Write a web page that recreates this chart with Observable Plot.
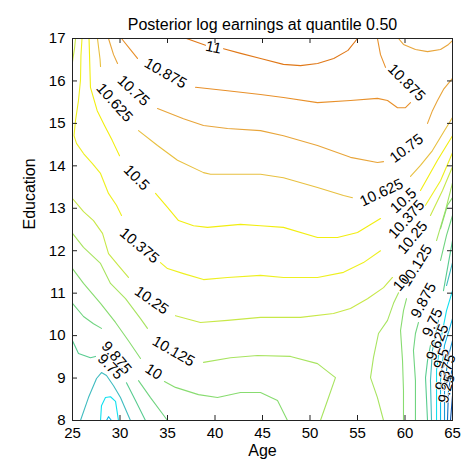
<!DOCTYPE html>
<html><head><meta charset="utf-8">
<script src="https://cdn.jsdelivr.net/npm/d3@7"></script>
<script src="https://cdn.jsdelivr.net/npm/@observablehq/plot@0.6"></script>
<style>html,body{margin:0;padding:0;background:#fff;}</style>
</head><body><div id="chart"></div>
<script>
const title = "Posterior log earnings at quantile 0.50";
const xLabel = "Age";
const yLabel = "Education";
const xTicks = [25, 30, 35, 40, 45, 50, 55, 60, 65];
const yTicks = [8, 9, 10, 11, 12, 13, 14, 15, 16, 17];

const levels = [11, 10.875, 10.75, 10.625, 10.5, 10.375, 10.25, 10.125, 10, 9.875, 9.75, 9.625, 9.5, 9.375, 9.25, 9.125, 9];
const levelColors = ["#e07818", "#e8902a", "#e8a53a", "#e8c040", "#f2ee10", "#eef020", "#c8e848", "#a8e460", "#88dc70", "#70d480", "#58cc90", "#40bcc0", "#10e0f0", "#10b8e8", "#1898d8", "#1070c0", "#0850a8"];

// contour segments per level: [age, education] points
const c11 = [
  [[37.0,17],[39.0,16.84]],
  [[40.9,16.76],[42.7,16.65],[44.8,16.53],[47.2,16.39],[49.0,16.36],[50.8,16.41],[52.5,16.53],[54.0,16.72],[55.0,17]]
];
const c10_875 = [
  [[30.16,17],[31.1,16.74],[31.84,16.53]],
  [[37.95,15.85],[41.32,15.77],[44.79,15.68],[47.21,15.61],[50.79,15.49],[54.26,15.54],[57.1,15.59],[58.16,15.54],[59.21,15.37],[60.05,15.37],[60.58,15.49]],
  [[57.95,16.32],[57.42,16.62],[57.1,17]]
];
const c10_75 = [
  [[28.79,17],[29.32,16.62],[29.74,16.41]],
  [[33.95,15.35],[36.68,15.11],[38.79,14.95],[41.32,14.88],[44.79,14.83],[47.21,14.71],[50.79,14.48],[54.26,14.2],[57.1,14.08],[57.74,14.1]],
  [[62.37,15],[62.89,15.3],[63.42,15.54],[64.05,15.8],[65,16.06]],
  [[59.32,17],[59.84,16.86],[61.1,16.74],[62.37,16.69],[63.74,16.74],[64.58,16.86],[65,16.95]]
];
const c10_625 = [
  [[27.63,17],[27.9,16.51],[27.95,16.34]],
  [[31.95,14.83],[33.95,14.48],[36.05,14.13],[38.79,13.84],[39.53,13.8],[44.79,13.8],[47.21,13.72],[50.79,13.49],[53.53,13.3],[54.47,13.25]],
  [[60.58,13.75],[61.63,14.01],[62.89,14.36],[64.05,14.79],[65,15.14]]
];
const c10_5 = [
  [[26.74,17],[26.79,16.62],[26.89,15.85],[27.6,15.3],[28.37,14.95],[29.18,14.6],[29.95,14.24]],
  [[33.74,13.35],[35,13.02],[36.16,12.71],[37.74,12.59],[39.21,12.55],[42.68,12.62],[44.79,12.59],[47.21,12.55],[50.79,12.31],[52.89,12.31],[55,12.43],[57.42,12.76]],
  [[61.63,13.42],[63.42,14.13],[65,14.71]]
];
const c10_375 = [
  [[26,17],[25.89,16.6],[25.84,16.01],[25.63,15.54],[25.32,15.07],[25.16,14.71],[25.42,14.53],[26.16,14.29],[27.1,14.05],[27.95,13.82],[28.79,13.35],[29.63,13.07],[30.16,12.83]],
  [[34.26,11.72],[35,11.58],[36.68,11.46],[38.79,11.32],[41.32,11.37],[44.79,11.42],[47.21,11.37],[50.79,11.37],[53.53,11.49],[55.63,11.72],[57.42,12.0]],
  [[62.16,13.07],[63.74,13.65],[65,14.31]]
];
const c10_25 = [
  [[25.32,17],[25.21,16.76],[25.05,16.53],[25,16.45]],
  [[25,13.23],[26.16,12.92],[27.21,12.71],[28.16,12.41],[28.79,11.93],[29.84,11.65],[30.89,11.37]],
  [[35.84,10.47],[38.47,10.31],[41.32,10.36],[44.79,10.43],[49,10.43],[52.47,10.52],[54.26,10.64],[56.05,10.87],[57.74,11.13],[58.68,11.37]],
  [[62.68,12.83],[63.95,13.42],[65,13.98]]
];
const c10_125 = [
  [[25,12.41],[26.16,12.08],[27.95,11.7],[29,11.23],[30.58,10.87],[32.16,10.4],[32.89,10.17]],
  [[38.79,9.37],[41.63,9.48],[44.47,9.53],[47.95,9.51],[50.79,9.34],[52.68,9.01],[51.84,8.47],[51.1,8]],
  [[57.74,8],[57.1,8.54],[56.37,9.01],[56.68,9.48],[57.21,10.05],[58.16,10.36],[58.79,10.76],[59.32,11.01]],
  [[63.32,12.24],[64.26,12.95],[65,13.6]]
];
const c10 = [
  [[25,11.58],[26.16,11.23],[27.95,10.76],[29.53,10.31],[30.89,9.88],[32.16,9.46]],
  [[34.68,8.92],[35.84,8.78],[38.26,8.61],[40.26,8.54],[42.68,8.66],[44.79,8.66],[46.58,8.47],[47.63,8]],
  [[59.84,8],[59.84,8.71],[59.74,9.41],[59.53,10.12],[59.84,10.59],[60.16,10.87]],
  [[63.74,12.52],[64.47,13.07],[65,13.25]]
];
const c9_875 = [
  [[25,10.76],[26.16,10.45],[27.21,10.28],[28.05,10.17]],
  [[31.95,8.94],[33.21,8.54],[35,8]],
  [[61.1,8],[61.1,8.94],[60.89,9.65],[61.1,10.05],[61.42,10.31]],
  [[63.74,11.77],[64.37,12.36],[65,12.83]]
];
const c9_75 = [
  [[25,9.88],[25.63,9.58],[26.89,9.48],[27.42,9.51]],
  [[30.68,8.89],[31.63,8.47],[32.68,8]],
  [[62.37,8],[62.16,9.01],[62.37,9.41],[62.68,9.77]],
  [[64.05,11.06],[64.58,11.72],[65,12.24]]
];
const c9_625 = [
  [[25.84,8],[26.68,8.54],[27.53,8.99],[28.05,9.13],[28.58,9.06],[29.32,8.82],[30.05,8.54],[31.1,8]],
  [[62.79,8],[62.68,8.94],[62.89,9.65],[63.53,10.36]],
  [[64.37,11.18],[65,11.72]]
];
const c9_5 = [
  [[27.95,8],[28.05,8.35],[28.47,8.54],[29,8.56],[29.53,8.45],[29.84,8]],
  [[63.32,8],[63.32,9.18],[63.74,9.88],[64.37,10.59],[65,11.06]]
];
const c9_375 = [
  [[28.58,8],[28.79,8.09],[29.1,8]],
  [[63.74,8],[63.74,8.94],[64.16,9.77],[65,10.4]]
];
const c9_25 = [[[64.16,8],[64.16,8.82],[64.58,9.53],[65,9.88]]];
const c9_125 = [[[64.47,8],[64.58,8.71],[65,9.29]]];
const c9 = [[[64.79,8],[65,8.59]]];

const contourSets = [c11, c10_875, c10_75, c10_625, c10_5, c10_375, c10_25, c10_125, c10, c9_875, c9_75, c9_625, c9_5, c9_375, c9_25, c9_125, c9];

// contour labels
const labelText = ["11","10.875","10.75","10.625","10.5","10.375","10.25","10.125","10","9.875","9.75",
                   "10.875","10.75","10.625","10.5","10.375","10.25","10.125","10","9.875","9.75","9.625","9.5","9.375","9.25"];
const labelAge  = [39.84,34.79,31.42,29.42,31.74,32.05,33.32,35.63,33.53,29.63,29.0,
                   60.16,60.16,57.53,59.84,60.16,60.79,61.21,59.63,61.95,62.89,63.42,63.84,64.26,64.37];
const labelEdu  = [16.79,16.18,15.77,15.49,13.72,12.12,10.83,9.63,9.15,9.48,9.27,
                   15.96,14.41,13.37,13.18,12.74,12.31,11.65,11.25,10.83,10.31,9.84,9.46,9.13,8.75];
const labelAngle = [12,30,43,48,45,40,35,30,33,50,45,
                    45,-37,-25,-42,-48,-50,-58,-50,-62,-65,-68,-70,-72,-75];

const rows = [];
contourSets.forEach((set, li) => {
  set.forEach((seg, si) => {
    seg.forEach(([a, e]) => rows.push({age: a, edu: e, level: levels[li], seg: li + "-" + si}));
  });
});
const labels = labelText.map((t, i) => ({text: t, age: labelAge[i], edu: labelEdu[i], angle: labelAngle[i]}));

const W = 465, H = 466, mL = 72, mR = 13, mT = 38, mB = 46;
const innerW = W - mL - mR, innerH = H - mT - mB;
const font = "'Liberation Sans', Arial, Helvetica, sans-serif";

const chart = Plot.plot({
  width: W, height: H,
  marginLeft: mL, marginRight: mR, marginTop: mT, marginBottom: mB,
  style: {fontFamily: font, fontSize: "15px", background: "#fff", color: "#000"},
  x: {domain: [25, 65], ticks: xTicks},
  y: {domain: [8, 17], ticks: yTicks},
  color: {type: "ordinal", domain: levels, range: levelColors},
  marks: [
    Plot.line(rows, {x: "age", y: "edu", z: "seg", stroke: "level", strokeWidth: 1.1, curve: "linear"}),
    Plot.text(labels, {x: "age", y: "edu", text: "text", rotate: "angle", fontSize: 15, fill: "#000", stroke: "#fff", strokeWidth: 1.5, paintOrder: "stroke"}),
    Plot.frame({stroke: "#222"}),
    Plot.ruleX(xTicks, {x: d => d, insetTop: innerH - 5, stroke: "#222"}),
    Plot.ruleX(xTicks, {x: d => d, insetBottom: innerH - 5, stroke: "#222"}),
    Plot.ruleY(yTicks, {y: d => d, insetRight: innerW - 5, stroke: "#222"}),
    Plot.ruleY(yTicks, {y: d => d, insetLeft: innerW - 5, stroke: "#222"}),
    Plot.axisX({ticks: xTicks, tickSize: 0, tickPadding: 7, label: null, fontSize: 15}),
    Plot.axisY({ticks: yTicks, tickSize: 0, tickPadding: 7, label: null, fontSize: 15}),
    Plot.text([title], {frameAnchor: "top", dy: -20, fontSize: 16}),
    Plot.text([xLabel], {frameAnchor: "bottom", dy: 35, fontSize: 16}),
    Plot.text([yLabel], {frameAnchor: "left", dx: -43, rotate: -90, fontSize: 16})
  ]
});
document.getElementById("chart").appendChild(chart);
</script>
</body></html>
